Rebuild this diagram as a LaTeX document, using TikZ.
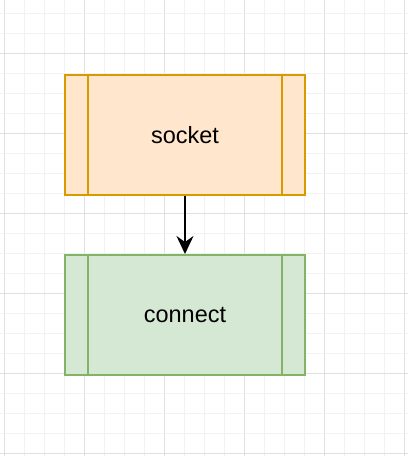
\documentclass[tikz,border=0pt]{standalone}
\usepackage{fontspec}
\setmainfont{Liberation Sans}
\usetikzlibrary{arrows.meta}
\definecolor{orfill}{HTML}{FFE6CC}
\definecolor{orline}{HTML}{D79B00}
\definecolor{grfill}{HTML}{D5E8D4}
\definecolor{grline}{HTML}{82B366}
\definecolor{gridminor}{HTML}{F2F2F2}
\definecolor{gridmajor}{HTML}{E0E0E0}
\tikzset{
  procbox/.style={rectangle, minimum width=240pt, minimum height=120pt, inner sep=0pt,
    line width=2pt, font=\fontsize{23.5}{28}\selectfont},
  sideline/.style={line width=2pt},
  flow/.style={line width=2pt, -{Stealth[length=18pt, width=17pt, inset=6pt]}},
}
\begin{document}
\begin{tikzpicture}[x=1pt, y=-1pt]
\useasboundingbox (0,0) rectangle (408,456);
\fill[white] (0,0) rectangle (408,456);
% grid
\foreach \i in {0,...,20} {
  \pgfmathtruncatemacro{\m}{mod(\i,4)}
  \ifnum\m=0 \def\gc{gridmajor}\else\def\gc{gridminor}\fi
  \draw[\gc, line width=1pt] ({4+20*\i},0) -- ({4+20*\i},456);
}
\foreach \j in {0,...,22} {
  \pgfmathtruncatemacro{\m}{mod(\j+2,4)}
  \ifnum\m=0 \def\gc{gridmajor}\else\def\gc{gridminor}\fi
  \draw[\gc, line width=1pt] (0,{13+20*\j}) -- (408,{13+20*\j});
}
% boxes
\node[procbox, draw=orline, fill=orfill] (sock) at (185,135) {socket};
\node[procbox, draw=grline, fill=grfill] (conn) at (185,315) {connect};
\draw[sideline, orline] ([xshift=24pt]sock.north west) -- ([xshift=24pt]sock.south west);
\draw[sideline, orline] ([xshift=-24pt]sock.north east) -- ([xshift=-24pt]sock.south east);
\draw[sideline, grline] ([xshift=24pt]conn.north west) -- ([xshift=24pt]conn.south west);
\draw[sideline, grline] ([xshift=-24pt]conn.north east) -- ([xshift=-24pt]conn.south east);
% connector
\draw[flow] (sock.south) -- (conn.north);
\end{tikzpicture}
\end{document}
